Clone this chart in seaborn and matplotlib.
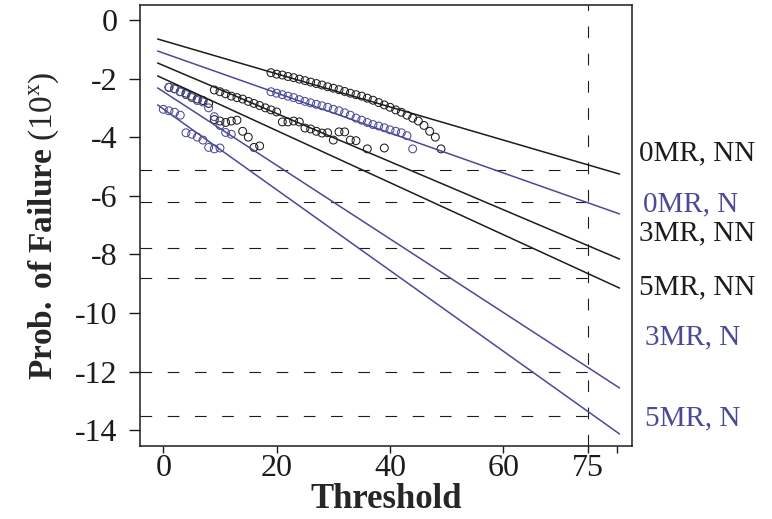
import numpy as np
import pandas as pd
import matplotlib
matplotlib.use("Agg")
import matplotlib.pyplot as plt
import seaborn as sns

# =====================================
# DATA
# =====================================

BLACK = "#1c1c1c"
BLUE = "#4a4a96"

series_names = ["0MR, NN", "0MR, N", "3MR, NN", "5MR, NN", "3MR, N", "5MR, N"]
series_colors = [BLACK, BLUE, BLACK, BLACK, BLUE, BLUE]

# fitted lines: value at start / end of the fitted range
fit_x = [-1.0, 80.5]
fit_start = [-0.65, -1.06, -1.47, -1.91, -2.32, -2.90]
fit_end = [-5.26, -6.62, -8.16, -9.15, -12.56, -14.13]

# value of each fit at threshold 75 (dashed guides)
guide_x = 75
guide_y = [-5.12, -6.21, -7.78, -8.81, -12.02, -13.52]

# observed points
x_0mr_nn = list(range(19, 50))
y_0mr_nn = [-1.80, -1.85, -1.88, -1.93, -1.97, -2.02, -2.07, -2.12, -2.17, -2.22,
            -2.28, -2.33, -2.38, -2.44, -2.50, -2.55, -2.60, -2.67, -2.74, -2.82,
            -2.90, -2.98, -3.07, -3.15, -3.25, -3.35, -3.45, -3.60, -3.80, -4.00,
            -4.40]

x_0mr_n = list(range(19, 45))
y_0mr_n = [-2.45, -2.50, -2.55, -2.60, -2.65, -2.72, -2.78, -2.83, -2.88, -2.93,
           -2.98, -3.05, -3.10, -3.17, -3.25, -3.35, -3.42, -3.50, -3.57, -3.62,
           -3.68, -3.75, -3.80, -3.85, -3.95, -4.40]

x_3mr_nn = [9, 10, 11, 12, 13, 14, 15, 16, 17, 18, 19, 20, 21, 22, 23, 24, 25, 26,
            27, 28, 29, 30, 31, 32, 33, 34, 36, 39]
y_3mr_nn = [-2.39, -2.45, -2.52, -2.60, -2.65, -2.70, -2.78, -2.85, -2.92, -3.00,
            -3.07, -3.14, -3.48, -3.48, -3.45, -3.48, -3.69, -3.72, -3.80, -3.86,
            -3.85, -4.10, -3.82, -3.82, -4.10, -4.12, -4.40, -4.37]

x_5mr_nn = list(range(1, 18))
y_5mr_nn = [-2.30, -2.35, -2.45, -2.50, -2.60, -2.70, -2.75, -2.85, -3.40, -3.45,
            -3.50, -3.45, -3.42, -3.80, -4.00, -4.35, -4.30]

x_3mr_n = list(range(1, 13))
y_3mr_n = [-2.30, -2.35, -2.45, -2.55, -2.65, -2.75, -2.80, -3.00, -3.30, -3.60,
           -3.84, -3.90]

x_5mr_n = list(range(0, 11))
y_5mr_n = [-3.05, -3.10, -3.15, -3.25, -3.85, -3.90, -4.00, -4.10, -4.35, -4.40,
           -4.37]

point_x = [x_0mr_nn, x_0mr_n, x_3mr_nn, x_5mr_nn, x_3mr_n, x_5mr_n]
point_y = [y_0mr_nn, y_0mr_n, y_3mr_nn, y_5mr_nn, y_3mr_n, y_5mr_n]

# right-hand labels (y position, x position)
label_y = [-4.55, -6.30, -7.27, -9.12, -10.82, -13.59]
label_x = [83.9, 84.6, 83.9, 83.9, 85.0, 85.0]

x_ticks = [0, 20, 40, 60, 75, 80]
x_tick_labels = ["0", "20", "40", "60", "75", ""]
y_ticks = [0, -2, -4, -6, -8, -10, -12, -14]

XLIM = (-4.11, 82.7)
YLIM = (-14.54, 0.51)


# =====================================
# FRAMES
# =====================================

fits = pd.DataFrame({
    "series": np.repeat(series_names, 2),
    "x": fit_x * len(series_names),
    "y": [v for pair in zip(fit_start, fit_end) for v in pair],
})

points = pd.concat(
    [pd.DataFrame({"series": name, "x": xs, "y": ys})
     for name, xs, ys in zip(series_names, point_x, point_y)],
    ignore_index=True,
)

palette = dict(zip(series_names, series_colors))


# =====================================
# PLOT
# =====================================

sns.set_style("white")
plt.rcParams["font.family"] = ["Liberation Serif", "DejaVu Serif"]
plt.rcParams["mathtext.fontset"] = "custom"
plt.rcParams["mathtext.rm"] = "Liberation Serif"
plt.rcParams["mathtext.bf"] = "Liberation Serif:bold"
plt.rcParams["mathtext.it"] = "Liberation Serif:italic"
plt.rcParams["axes.unicode_minus"] = False

fig = plt.figure(figsize=(7.72, 5.19), dpi=100)
ax = fig.add_axes([140 / 772, 1 - 446 / 519, 492 / 772, 441 / 519])

dash = (0, (10.5, 14))
ax.hlines(guide_y, XLIM[0], guide_x, colors=BLACK, linewidth=0.8, linestyles=[dash])
ax.axvline(guide_x, color=BLACK, linewidth=0.8, linestyle=dash)

sns.lineplot(data=fits, x="x", y="y", hue="series", palette=palette,
             estimator=None, linewidth=1.1, legend=False, ax=ax)

for name, col in palette.items():
    sns.scatterplot(data=points[points["series"] == name], x="x", y="y",
                    facecolor="none", edgecolor=col, linewidth=0.75, s=32,
                    marker="o", legend=False, ax=ax)

for name, col, ly, lx in zip(series_names, series_colors, label_y, label_x):
    ax.text(lx, ly, name, color=col, fontsize=21, va="center", ha="left",
            clip_on=False)

ax.set_xlim(*XLIM)
ax.set_ylim(*YLIM)
ax.set_xticks(x_ticks)
ax.set_xticklabels(x_tick_labels)
ax.set_yticks(y_ticks)
ax.set_yticklabels([str(t) for t in y_ticks])

ax.tick_params(axis="y", direction="out", length=8, width=1, pad=8,
               labelsize=23, left=True, colors=BLACK)
ax.tick_params(axis="x", direction="out", length=5, width=1, pad=1,
               labelsize=23, bottom=True, colors=BLACK)

for sp in ax.spines.values():
    sp.set_linewidth(1.1)
    sp.set_color(BLACK)

ax.set_xlabel("Threshold", fontsize=25, fontweight="bold", labelpad=0)
ax.set_ylabel(r"$\mathbf{Prob.\ of\ Failure}\ \mathrm{(10^{x})}$", fontsize=24,
              labelpad=10)

fig.savefig("out.png", dpi=100)
